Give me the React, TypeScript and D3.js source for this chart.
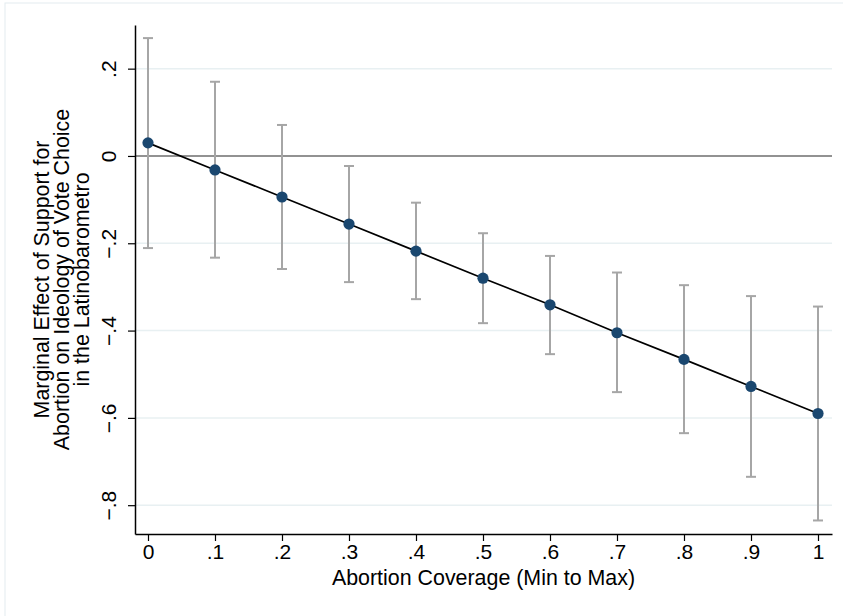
import { useEffect, useRef } from "react";
import * as d3 from "d3";

// marginal effect estimates
const xVals = [0, 0.1, 0.2, 0.3, 0.4, 0.5, 0.6, 0.7, 0.8, 0.9, 1];
const effect = [0.030, -0.032, -0.094, -0.156, -0.218, -0.280, -0.341, -0.405, -0.466, -0.528, -0.590];
const upper = [0.270, 0.170, 0.071, -0.023, -0.107, -0.177, -0.229, -0.267, -0.296, -0.321, -0.345];
const lower = [-0.211, -0.233, -0.259, -0.289, -0.328, -0.383, -0.454, -0.541, -0.635, -0.735, -0.835];

const xTicks = [0, 0.1, 0.2, 0.3, 0.4, 0.5, 0.6, 0.7, 0.8, 0.9, 1];
const yTicks = [0.2, 0, -0.2, -0.4, -0.6, -0.8];
const yTitle = [
  "Marginal Effect of Support for",
  "Abortion on Ideology of Vote Choice",
  "in the Latinobarometro",
];
const xTitle = "Abortion Coverage (Min to Max)";

const fmt = (v: number) => {
  if (v === 0) return "0";
  if (v === 1) return "1";
  return d3.format(".1f")(v).replace("0.", ".");
};

export default function App() {
  const ref = useRef<SVGSVGElement>(null);

  useEffect(() => {
    const w = 843, h = 616;
    const m = { top: 25, right: 11, bottom: 82, left: 135 };
    const svg = d3.select(ref.current);
    svg.selectAll("*").remove();

    const font = "'Liberation Sans', Arial, sans-serif";

    // outer frame
    svg.append("rect")
      .attr("x", 5).attr("y", 3)
      .attr("width", w + 10).attr("height", h + 10)
      .attr("fill", "white")
      .attr("stroke", "#e4ecef").attr("stroke-width", 1);

    const x = d3.scaleLinear().domain([-0.0194, 1.0209]).range([m.left, w - m.right]);
    const y = d3.scaleLinear().domain([-0.866, 0.300]).range([h - m.bottom, m.top]);

    // gridlines
    svg.append("g")
      .selectAll("line")
      .data(yTicks.filter((d) => d !== 0))
      .join("line")
      .attr("x1", m.left).attr("x2", w - m.right)
      .attr("y1", (d) => y(d)).attr("y2", (d) => y(d))
      .attr("stroke", "#e8f0f2").attr("stroke-width", 1.5);

    // zero reference line
    svg.append("line")
      .attr("x1", m.left).attr("x2", w - m.right)
      .attr("y1", y(0)).attr("y2", y(0))
      .attr("stroke", "#6e6e6e").attr("stroke-width", 1.6);

    // y axis
    const yAxis = svg.append("g")
      .attr("transform", `translate(${m.left},0)`)
      .call(d3.axisLeft(y).tickValues(yTicks).tickFormat((d) => fmt(+d)).tickSize(7).tickSizeOuter(0));
    yAxis.select(".domain").attr("stroke", "black").attr("stroke-width", 1.5);
    yAxis.selectAll(".tick line").attr("stroke", "black").attr("stroke-width", 1.2);
    yAxis.selectAll(".tick text")
      .attr("font-family", font).attr("font-size", 21).attr("fill", "black")
      .attr("x", null).attr("dy", null)
      .attr("text-anchor", "middle")
      .attr("transform", "translate(-19,0) rotate(-90)");

    // x axis
    const xAxis = svg.append("g")
      .attr("transform", `translate(0,${h - m.bottom})`)
      .call(d3.axisBottom(x).tickValues(xTicks).tickFormat((d) => fmt(+d)).tickSize(7).tickSizeOuter(0).tickPadding(3));
    xAxis.select(".domain").attr("stroke", "black").attr("stroke-width", 1.5);
    xAxis.selectAll(".tick line").attr("stroke", "black").attr("stroke-width", 1.2);
    xAxis.selectAll(".tick text")
      .attr("font-family", font).attr("font-size", 21).attr("fill", "black");

    // error bars
    const cap = 5;
    const eb = svg.append("g").attr("stroke", "#a6a6a6").attr("stroke-width", 2);
    xVals.forEach((xv, i) => {
      eb.append("line")
        .attr("x1", x(xv)).attr("x2", x(xv))
        .attr("y1", y(upper[i])).attr("y2", y(lower[i]));
      [upper[i], lower[i]].forEach((v) => {
        eb.append("line")
          .attr("x1", x(xv) - cap).attr("x2", x(xv) + cap)
          .attr("y1", y(v)).attr("y2", y(v));
      });
    });

    // estimate line
    const line = d3.line<number>().x((_, i) => x(xVals[i])).y((d) => y(d));
    svg.append("path")
      .datum(effect)
      .attr("d", line)
      .attr("fill", "none")
      .attr("stroke", "black")
      .attr("stroke-width", 1.7);

    svg.append("g")
      .selectAll("circle")
      .data(effect)
      .join("circle")
      .attr("cx", (_, i) => x(xVals[i]))
      .attr("cy", (d) => y(d))
      .attr("r", 5.6)
      .attr("fill", "#1a476f");

    // axis titles
    const cy = (m.top + h - m.bottom) / 2;
    svg.append("text")
      .attr("transform", `translate(${(m.left + w - m.right) / 2},${h - 31})`)
      .attr("text-anchor", "middle")
      .attr("font-family", font).attr("font-size", 21.4)
      .text(xTitle);

    svg.append("g")
      .selectAll("text")
      .data(yTitle)
      .join("text")
      .attr("transform", (_, i) => `translate(${49 + i * 20},${cy}) rotate(-90)`)
      .attr("text-anchor", "middle")
      .attr("font-family", font).attr("font-size", 21.4)
      .text((d) => d);
  }, []);

  return (
    <div style={{ position: "absolute", left: 0, top: 0, width: 843, height: 616, overflow: "hidden" }}>
      <svg ref={ref} width={843} height={616} style={{ display: "block" }} />
    </div>
  );
}
